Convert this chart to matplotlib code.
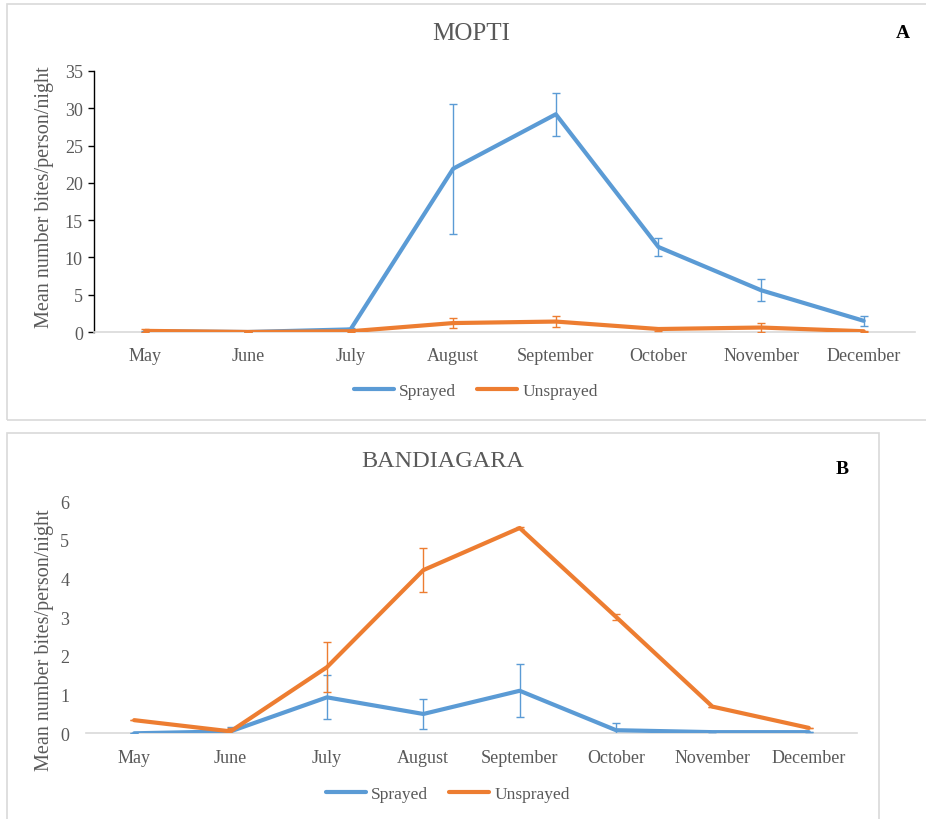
import matplotlib
matplotlib.use("Agg")
import matplotlib.pyplot as plt
from matplotlib.patches import Rectangle

months = ["May", "June", "July", "August", "September", "October", "November", "December"]

# Panel A - MOPTI
mopti_sprayed = [0.1, 0.0, 0.35, 21.9, 29.2, 11.4, 5.6, 1.5]
mopti_sprayed_err = [0.1, 0.0, 0.2, 8.7, 2.9, 1.15, 1.5, 0.7]
mopti_unsprayed = [0.15, 0.0, 0.1, 1.2, 1.4, 0.4, 0.6, 0.1]
mopti_unsprayed_err = [0.2, 0.0, 0.05, 0.7, 0.7, 0.2, 0.55, 0.05]

# Panel B - BANDIAGARA
band_sprayed = [0.0, 0.05, 0.93, 0.5, 1.1, 0.08, 0.03, 0.03]
band_sprayed_err = [0.0, 0.12, 0.57, 0.38, 0.69, 0.18, 0.0, 0.0]
band_unsprayed = [0.34, 0.05, 1.71, 4.22, 5.31, 3.01, 0.69, 0.14]
band_unsprayed_err = [0.0, 0.1, 0.65, 0.56, 0.03, 0.08, 0.0, 0.0]

BLUE = "#5B9BD5"
ORANGE = "#ED7D31"
GRAY_TXT = "#595959"
GRID = "#D9D9D9"
W, H = 926, 820

plt.rcParams["font.family"] = ["Liberation Serif", "DejaVu Serif"]

fig = plt.figure(figsize=(W / 100, H / 100), dpi=100)


def px_axes(left, right, top, bottom):
    return fig.add_axes([left / W, 1 - bottom / H, (right - left) / W, (bottom - top) / H])


def box(x0, y0, x1, y1):
    fig.patches.append(Rectangle((x0 / W, 1 - y1 / H), (x1 - x0) / W, (y1 - y0) / H,
                                 transform=fig.transFigure, fill=False,
                                 edgecolor=GRID, linewidth=1.2, clip_on=False))


def draw(ax, sprayed, s_err, unsprayed, u_err, ymax, step, yaxis_line):
    x = list(range(len(months)))
    ax.plot(x, sprayed, color=BLUE, lw=3.0, solid_capstyle="round",
            solid_joinstyle="round", label="Sprayed", zorder=3)
    ax.errorbar(x, sprayed, yerr=s_err, fmt="none", ecolor=BLUE, elinewidth=1.0,
                capsize=3.2, capthick=1.0, zorder=3)
    ax.plot(x, unsprayed, color=ORANGE, lw=3.0, solid_capstyle="round",
            solid_joinstyle="round", label="Unsprayed", zorder=4)
    ax.errorbar(x, unsprayed, yerr=u_err, fmt="none", ecolor=ORANGE, elinewidth=1.0,
                capsize=3.2, capthick=1.0, zorder=4)
    ax.set_xlim(-0.5, len(months) - 0.5)
    ax.set_ylim(0, ymax)
    ax.set_yticks(range(0, ymax + 1, step))
    ax.set_xticks(x)
    ax.set_xticklabels(months)
    for s in ["top", "right"]:
        ax.spines[s].set_visible(False)
    ax.spines["bottom"].set_color(GRID)
    ax.spines["bottom"].set_linewidth(1.2)
    ax.tick_params(axis="x", length=0, pad=11, labelsize=13, labelcolor=GRAY_TXT)
    if yaxis_line:
        ax.spines["left"].set_color("black")
        ax.spines["left"].set_linewidth(1.0)
        ax.tick_params(axis="y", length=4, width=1.0, color="black", pad=4,
                       labelsize=13, labelcolor=GRAY_TXT)
    else:
        ax.spines["left"].set_visible(False)
        ax.tick_params(axis="y", length=0, pad=12, labelsize=13, labelcolor=GRAY_TXT)
    ax.set_ylabel("Mean number bites/person/night", fontsize=14.5, color=GRAY_TXT)
    ax.patch.set_alpha(0)
    return ax


def label_at(ax, xpx, ypx, left, right, top, bottom):
    ax.yaxis.set_label_coords((xpx - left) / (right - left), (bottom - ypx) / (bottom - top))
    ax.yaxis.label.set_va("center")


# Panel A
box(7, 5, 940, 421)
axA = px_axes(94, 915, 72, 333)
draw(axA, mopti_sprayed, mopti_sprayed_err, mopti_unsprayed, mopti_unsprayed_err, 35, 5, True)
label_at(axA, 45, 197, 94, 915, 72, 333)
fig.text(471 / W, 1 - 34 / H, "MOPTI", ha="center", va="center", fontsize=18, color=GRAY_TXT)
fig.text(903 / W, 1 - 34 / H, "A", ha="center", va="center", fontsize=14,
         fontweight="bold", color="black")
axA.legend(loc="center", bbox_to_anchor=(476 / W, 1 - 392 / H), bbox_transform=fig.transFigure,
           ncol=2, frameon=False, fontsize=12.5, handlelength=2.3, handletextpad=0.3,
           columnspacing=1.2, labelcolor=GRAY_TXT)

# Panel B
box(7, 434, 879, 840)
axB = px_axes(86, 857, 502.3, 734.3)
draw(axB, band_sprayed, band_sprayed_err, band_unsprayed, band_unsprayed_err, 6, 1, False)
label_at(axB, 45, 640, 86, 857, 502.3, 734.3)
fig.text(443 / W, 1 - 462 / H, "BANDIAGARA", ha="center", va="center", fontsize=17.5, color=GRAY_TXT)
fig.text(842 / W, 1 - 470 / H, "B", ha="center", va="center", fontsize=14,
         fontweight="bold", color="black")
axB.legend(loc="center", bbox_to_anchor=(448 / W, 1 - 795 / H), bbox_transform=fig.transFigure,
           ncol=2, frameon=False, fontsize=12.5, handlelength=2.3, handletextpad=0.3,
           columnspacing=1.2, labelcolor=GRAY_TXT)

fig.savefig("out.png", dpi=100)
